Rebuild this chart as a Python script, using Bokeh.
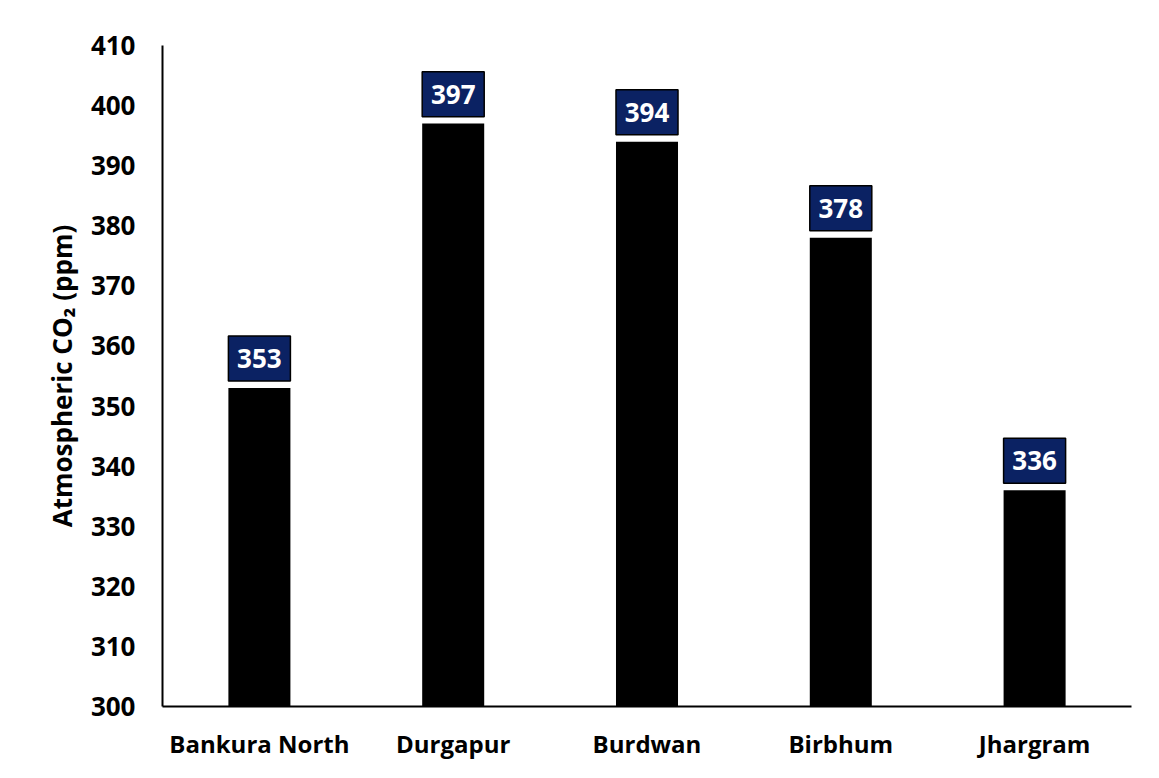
from bokeh.plotting import figure
from bokeh.models import FixedTicker, ColumnDataSource
from bokeh.core.properties import value
from bokeh.embed import file_html
from bokeh.resources import INLINE

sites = ["Bankura North", "Durgapur", "Burdwan", "Birbhum", "Jhargram"]
co2 = [353, 397, 394, 378, 336]
y_ticks = [300, 310, 320, 330, 340, 350, 360, 370, 380, 390, 400, 410]

FONT = "Open Sans"
NAVY = "#0b2263"

src = ColumnDataSource(dict(
    site=sites,
    co2=co2,
    label=[str(v) for v in co2],
    box_y=[v + 4.9 for v in co2],
))

W, H = 1151, 770
ML, MT, MR, MB = 162, 45, 20, 64
p = figure(
    x_range=sites, y_range=(300, 410),
    width=W, height=H,
    output_backend="svg", toolbar_location=None,
    min_border_left=ML, min_border_top=MT, min_border_right=MR, min_border_bottom=MB,
    background_fill_color="white", border_fill_color="white",
)
p.outline_line_color = None
p.xgrid.grid_line_color = None
p.ygrid.grid_line_color = None
p.x_range.range_padding = 0

p.vbar(x="site", top="co2", bottom=300, width=0.32, source=src,
       fill_color="black", line_color=None)
p.rect(x="site", y="box_y", width=0.32, height=45, height_units="screen",
       source=src, fill_color=NAVY, line_color="black", line_width=1.5)
p.text(x="site", y="box_y", text="label", source=src,
       text_font=value(FONT), text_font_style="bold", text_font_size="26px",
       text_color="white", text_align="center", text_baseline="middle")

for ax in (p.xaxis[0], p.yaxis[0]):
    ax.axis_line_color = "black"
    ax.axis_line_width = 2
    ax.major_tick_line_color = None
    ax.minor_tick_line_color = None
    ax.major_label_text_font = FONT
    ax.major_label_text_font_style = "bold"
    ax.major_label_text_color = "black"

p.yaxis.ticker = FixedTicker(ticks=y_ticks)
p.yaxis.major_label_text_font_size = "26px"
p.yaxis.major_label_standoff = 21
p.yaxis.axis_label = "Atmospheric CO₂ (ppm)"
p.yaxis.axis_label_text_font = FONT
p.yaxis.axis_label_text_font_style = "bold"
p.yaxis.axis_label_text_font_size = "26px"
p.yaxis.axis_label_text_color = "black"
p.yaxis.axis_label_standoff = 8

p.xaxis.major_label_text_font_size = "24px"
p.xaxis.major_label_standoff = 14

open("out.html", "w").write(file_html(p, INLINE))
